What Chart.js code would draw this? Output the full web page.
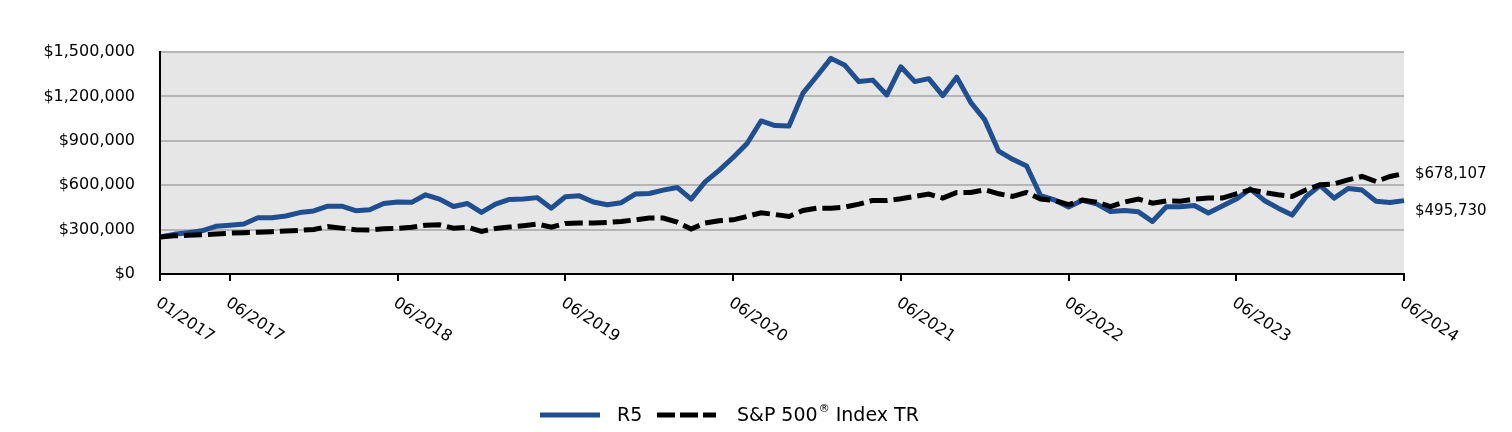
<!DOCTYPE html>
<html><head><meta charset="utf-8">
<script src="https://cdn.jsdelivr.net/npm/chart.js@4.4.1/dist/chart.umd.min.js"></script>
<style>html,body{margin:0;padding:0;background:#fff}canvas{display:block}</style>
</head><body>
<canvas id="c" width="1512" height="432"></canvas>
<script>
const months = [
"01/2017","02/2017","03/2017","04/2017","05/2017","06/2017","07/2017","08/2017","09/2017","10/2017","11/2017","12/2017",
"01/2018","02/2018","03/2018","04/2018","05/2018","06/2018","07/2018","08/2018","09/2018","10/2018","11/2018","12/2018",
"01/2019","02/2019","03/2019","04/2019","05/2019","06/2019","07/2019","08/2019","09/2019","10/2019","11/2019","12/2019",
"01/2020","02/2020","03/2020","04/2020","05/2020","06/2020","07/2020","08/2020","09/2020","10/2020","11/2020","12/2020",
"01/2021","02/2021","03/2021","04/2021","05/2021","06/2021","07/2021","08/2021","09/2021","10/2021","11/2021","12/2021",
"01/2022","02/2022","03/2022","04/2022","05/2022","06/2022","07/2022","08/2022","09/2022","10/2022","11/2022","12/2022",
"01/2023","02/2023","03/2023","04/2023","05/2023","06/2023","07/2023","08/2023","09/2023","10/2023","11/2023","12/2023",
"01/2024","02/2024","03/2024","04/2024","05/2024","06/2024"];
const tickLabels = ["01/2017","06/2017","06/2018","06/2019","06/2020","06/2021","06/2022","06/2023","06/2024"];
const r5 = [
250000,268000,279000,292000,322000,330000,338000,380000,380000,392000,415000,426000,
458000,458000,428000,434000,476000,487000,484000,535000,506000,456000,476000,416000,
472000,504000,507000,516000,445000,522000,528000,486000,468000,482000,540000,544000,
567000,585000,506000,622000,700000,787000,882000,1034000,1003000,1000000,1222000,1338000,
1457000,1410000,1300000,1310000,1210000,1400000,1300000,1320000,1205000,1330000,1160000,1043000,
830000,775000,730000,530000,500000,452000,498000,474000,422000,429000,420000,355000,
455000,455000,463000,412000,459000,506000,575000,497000,445000,398000,524000,598000,
513000,578000,567000,492000,483000,495730];
const sp500 = [
250000,258000,262000,265000,270000,276000,279000,282000,286000,290000,295000,301000,
320000,310000,299000,298000,305000,308000,316000,330000,332000,310000,316000,288000,
307000,317000,326000,337000,317000,342000,345000,344000,348000,355000,366000,378000,
378000,350000,304000,344000,360000,366000,389000,414000,402000,389000,429000,445000,
445000,452000,472000,497000,497000,508000,524000,540000,513000,551000,551000,569000,
542000,524000,551000,506000,497000,468000,500000,486000,456000,486000,506000,479000,
494000,492000,506000,513000,513000,542000,569000,551000,535000,524000,569000,603000,
609000,636000,659000,625000,659000,678107];
const seriesNames = ["R5","S&P 500\u00AE Index TR"];
const endLabels = ["$495,730","$678,107"];

const BLUE = "#1F4E91";
const FONT = '"DejaVu Sans", sans-serif';
Chart.defaults.font.family = FONT;
Chart.defaults.color = "#000";

const bgPlugin = {
  id: "bg",
  beforeDraw(chart) {
    const a = chart.chartArea, ctx = chart.ctx;
    ctx.save();
    ctx.fillStyle = "#e6e6e6";
    ctx.fillRect(a.left, a.top, a.right - a.left, a.bottom - a.top);
    ctx.restore();
  }
};

const textPlugin = {
  id: "texts",
  afterDraw(chart) {
    const ctx = chart.ctx, xs = chart.scales.x, ys = chart.scales.y;
    ctx.save();
    ctx.font = "16px " + FONT;
    ctx.fillStyle = "#000";
    ctx.textAlign = "left";
    ctx.textBaseline = "alphabetic";
    tickLabels.forEach(l => {
      const px = xs.getPixelForValue(months.indexOf(l));
      ctx.save();
      ctx.translate(px - 5, xs.top + 31);
      ctx.rotate(34 * Math.PI / 180);
      ctx.fillText(l, 0, 0);
      ctx.restore();
    });
    ctx.font = "15px " + FONT;
    ctx.textBaseline = "middle";
    const yB = ys.getPixelForValue(sp500[sp500.length - 1]);
    let yR = ys.getPixelForValue(r5[r5.length - 1]);
    yR = Math.max(yR, yB + 37);
    const lx = chart.chartArea.right + 11;
    ctx.fillText(endLabels[1], lx, yB);
    ctx.fillText(endLabels[0], lx, yR);
    const ly = 415;
    ctx.lineWidth = 5;
    ctx.lineCap = "butt";
    ctx.strokeStyle = BLUE;
    ctx.beginPath(); ctx.moveTo(540, ly); ctx.lineTo(600, ly); ctx.stroke();
    ctx.strokeStyle = "#000";
    ctx.setLineDash([18, 5]);
    ctx.beginPath(); ctx.moveTo(657, ly); ctx.lineTo(716, ly); ctx.stroke();
    ctx.setLineDash([]);
    ctx.font = "19px " + FONT;
    ctx.textBaseline = "middle";
    ctx.fillText(seriesNames[0], 617, ly + 1);
    const parts = seriesNames[1].split("\u00AE");
    let x = 737;
    ctx.fillText(parts[0], x, ly + 1);
    x += ctx.measureText(parts[0]).width + 1;
    ctx.font = "11px " + FONT;
    ctx.fillText("\u00AE", x, ly - 6);
    x += ctx.measureText("\u00AE").width;
    ctx.font = "19px " + FONT;
    ctx.fillText(parts[1], x, ly + 1);
    ctx.restore();
  }
};

new Chart(document.getElementById("c"), {
  type: "line",
  data: {
    labels: months,
    datasets: [
      { label: seriesNames[0], data: r5, borderColor: BLUE, borderWidth: 5, pointRadius: 0, tension: 0, order: 1, borderJoinStyle: "round" },
      { label: seriesNames[1], data: sp500, borderColor: "#000", borderWidth: 5, borderDash: [18, 6], pointRadius: 0, tension: 0, order: 0 }
    ]
  },
  options: {
    responsive: false,
    animation: false,
    layout: { padding: { top: 52, right: 108, left: 0, bottom: 148 } },
    plugins: { legend: { display: false }, tooltip: { enabled: false } },
    scales: {
      x: {
        type: "category",
        offset: false,
        afterBuildTicks: s => { s.ticks = s.ticks.filter(t => tickLabels.includes(months[t.value])); },
        afterFit: s => { s.height = 10; },
        ticks: { display: false, autoSkip: false },
        grid: { drawOnChartArea: false, drawTicks: true, tickLength: 7, color: "#000", lineWidth: 2 },
        border: { display: true, color: "#000", width: 2 }
      },
      y: {
        min: 0, max: 1500000,
        afterFit: s => { s.width = 160; },
        ticks: { stepSize: 300000, padding: 25, font: { size: 16 }, color: "#000",
          callback: v => "$" + Number(v).toLocaleString("en-US") },
        grid: { color: "#b5b5b5", lineWidth: 2, drawTicks: false },
        border: { display: true, color: "#000", width: 2 }
      }
    }
  },
  plugins: [bgPlugin, textPlugin]
});
</script>
</body></html>
